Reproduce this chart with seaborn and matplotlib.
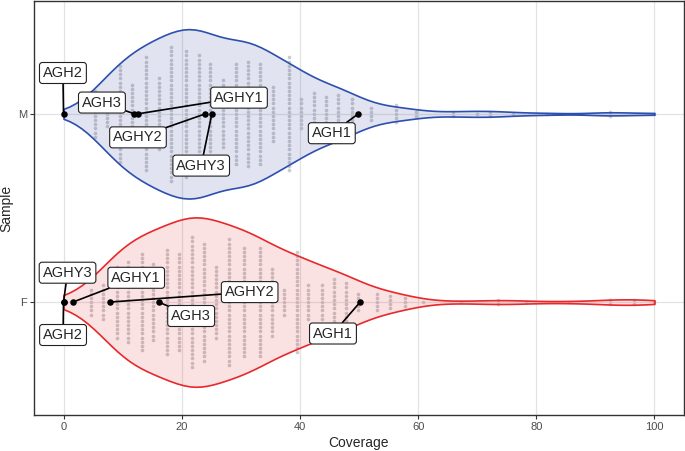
import numpy as np
import pandas as pd
import matplotlib
matplotlib.use("Agg")
import matplotlib.pyplot as plt
import seaborn as sns

# Données : colonnes du dotplot (couverture, nombre de points)
samples = ["M", "F"]

m_cov = [5.4, 7.4, 9.6, 11.6, 14.0, 16.1, 18.2, 20.7, 22.9, 24.8, 27.0, 29.2, 31.2,
         33.3, 35.4, 38.2, 40.2, 42.4, 44.5, 46.5, 48.8, 52.1, 56.3, 59.6, 65.9,
         69.9, 72.1, 76.0, 81.8, 92.4, 100.0]
m_cnt = [12, 7, 24, 15, 28, 18, 33, 31, 29, 25, 17, 25, 26,
         25, 14, 28, 8, 11, 9, 10, 8, 4, 5, 2, 2,
         1, 2, 1, 1, 2, 1]

f_cov = [4.7, 6.7, 9.0, 10.9, 13.3, 15.2, 17.5, 19.6, 21.8, 23.8, 25.8, 28.0, 30.5,
         33.2, 35.3, 37.3, 39.5, 41.4, 43.8, 45.8, 47.8, 49.9, 53.1, 55.2, 57.8,
         60.8, 67.3, 73.5, 78.3, 85.6, 92.4, 96.6, 100.0]
f_cnt = [7, 9, 18, 20, 24, 19, 26, 24, 32, 29, 18, 31, 27,
         27, 17, 7, 25, 9, 9, 12, 10, 5, 5, 4, 3,
         1, 1, 2, 1, 1, 2, 2, 1]

# Points étiquetés
m_lab = ["AGH2", "AGH3", "AGHY1", "AGHY2", "AGHY3", "AGH1"]
m_lab_cov = [0.0, 12.0, 12.6, 24.0, 25.1, 49.9]
f_lab = ["AGHY3", "AGH2", "AGHY1", "AGHY2", "AGH3", "AGH1"]
f_lab_cov = [0.0, 0.0, 1.6, 7.8, 16.1, 50.2]

# Position des étiquettes (x en couverture, décalage vertical)
m_lab_pos = [(-0.1, -0.217), (6.5, -0.06), (29.7, -0.086), (12.6, 0.125), (23.3, 0.275), (45.4, 0.103)]
f_lab_pos = [(0.68, -0.156), (-0.08, 0.175), (12.3, -0.129), (31.5, -0.053), (21.6, 0.074), (45.6, 0.167)]

edge_cols = {"M": "#2d4fae", "F": "#e8282b"}
fill_cols = {"M": (0.22, 0.30, 0.62, 0.15), "F": (0.90, 0.12, 0.14, 0.13)}

# Table pour le violon
df = pd.DataFrame({
    "Sample": ["M"] * (sum(m_cnt) + len(m_lab_cov)) + ["F"] * (sum(f_cnt) + len(f_lab_cov)),
    "Coverage": np.concatenate([np.repeat(m_cov, m_cnt), m_lab_cov,
                                np.repeat(f_cov, f_cnt), f_lab_cov]),
})

sns.set_style("white")
plt.rcParams["font.family"] = ["Liberation Sans", "DejaVu Sans"]

fig, ax = plt.subplots(figsize=(6.85, 4.51), dpi=100)
fig.subplots_adjust(left=0.0496, right=0.9985, top=0.998, bottom=0.0798)

sns.violinplot(data=df, x="Coverage", y="Sample", hue="Sample", order=samples,
               hue_order=samples, palette=edge_cols, cut=0, bw_adjust=0.85,
               density_norm="width", width=0.9, inner=None, linewidth=1.2,
               saturation=1, legend=False, ax=ax)
violins = list(ax.collections)
for coll, s in zip(violins, samples):
    coll.set_facecolor(fill_cols[s])
    coll.set_edgecolor(edge_cols[s])
    coll.set_linewidth(1.2)
    coll.set_zorder(3)

# Points gris empilés (dotplot centré)
step = 0.0222
dx, dy = [], []
for i, (cov, cnt) in enumerate([(m_cov, m_cnt), (f_cov, f_cnt)]):
    for c, n in zip(cov, cnt):
        for k in range(n):
            dx.append(c)
            dy.append(i + (k - (n - 1) / 2) * step)
sns.scatterplot(x=dx, y=dy, color="#cbcbcf", s=7, linewidth=0, ax=ax, zorder=2, legend=False)

# Points étiquetés + étiquettes
for i, (labs, covs, pos) in enumerate([(m_lab, m_lab_cov, m_lab_pos), (f_lab, f_lab_cov, f_lab_pos)]):
    sns.scatterplot(x=covs, y=[i] * len(covs), color="black", s=22, linewidth=0,
                    ax=ax, zorder=5, legend=False)
    for lab, c, (tx, off) in zip(labs, covs, pos):
        ax.annotate(lab, xy=(c, i), xytext=(tx, i + off), textcoords="data",
                    ha="center", va="center", fontsize=10.5, zorder=6,
                    bbox=dict(boxstyle="round,pad=0.24,rounding_size=0.2", fc="white", ec="#222222", lw=0.8),
                    arrowprops=dict(arrowstyle="-", color="black", lw=1.2, shrinkA=0, shrinkB=0))

ax.set_xlim(-5, 105)
ax.set_ylim(1.6, -0.6)
ax.set_xticks([0, 20, 40, 60, 80, 100])
ax.set_yticks([0, 1])
ax.set_yticklabels(samples)
ax.grid(True, color="#e3e3e3", lw=0.9, zorder=0)
ax.set_axisbelow(True)
for sp in ax.spines.values():
    sp.set_color("#333333")
    sp.set_linewidth(1.0)
ax.tick_params(axis="both", length=3, width=0.8, color="#333333", labelcolor="#4d4d4d",
               labelsize=8, pad=2, bottom=True, left=True)
ax.set_xlabel("Coverage", fontsize=10, labelpad=3)
ax.set_ylabel("Sample", fontsize=10, labelpad=3)

fig.savefig("out.png", dpi=100)
